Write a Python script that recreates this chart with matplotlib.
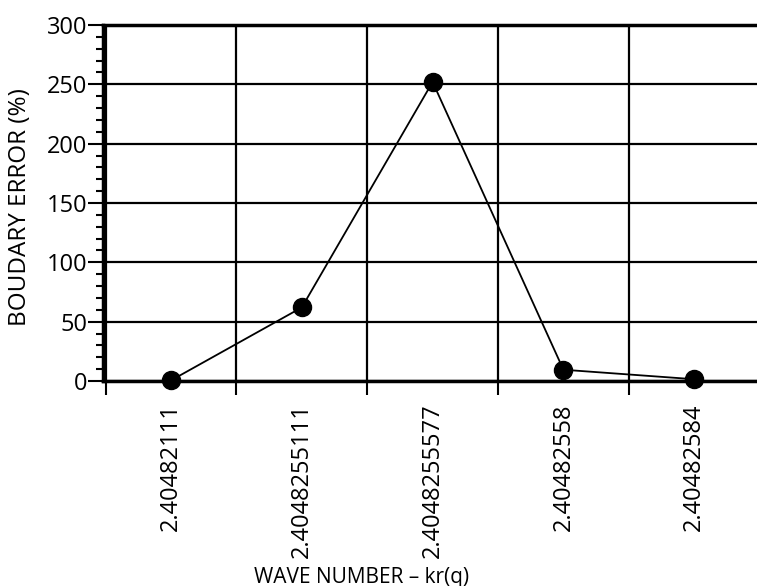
import matplotlib
matplotlib.use("Agg")
import matplotlib.pyplot as plt
from matplotlib.ticker import MultipleLocator

# data
wave_labels = ["2.40482111", "2.4048255111", "2.4048255577",
               "2.40482558", "2.40482584"]
boundary_error = [0.5, 62, 252, 9.5, 1.5]

plt.rcParams["font.family"] = ["Open Sans", "DejaVu Sans"]

fig = plt.figure(figsize=(7.57, 5.86), dpi=100)
ax = fig.add_axes([103 / 757, 1 - 381 / 586, 654 / 757, (381 - 25) / 586])

x = list(range(len(wave_labels)))
ax.plot(x, boundary_error, color="black", lw=1.3, marker="o",
        markersize=13, markerfacecolor="black", zorder=5, clip_on=False)

ax.set_xlim(-0.52, 4.48)
ax.set_ylim(0, 300)

# grid lines sit on the category boundaries
bounds = [i + 0.5 for i in range(-1, len(wave_labels) - 1)]
ax.set_xticks(bounds)
ax.set_xticklabels([])
ax.set_xticks(x, minor=True)
ax.set_xticklabels(wave_labels, minor=True, rotation=90, fontsize=17)
ax.tick_params(axis="x", which="major", direction="out", length=10, width=1.5)
ax.tick_params(axis="x", which="minor", length=0, pad=16)

ax.yaxis.set_major_locator(MultipleLocator(50))
ax.yaxis.set_minor_locator(MultipleLocator(10))
ax.tick_params(axis="y", which="major", direction="out", length=11, width=1.5,
               labelsize=17, pad=0)
ax.tick_params(axis="y", which="minor", direction="out", length=5, width=1.5)

ax.grid(True, which="major", color="black", lw=1.6)
ax.set_axisbelow(True)

ax.spines["right"].set_visible(False)
for side in ["left", "bottom", "top"]:
    ax.spines[side].set_linewidth(2.5)

fig.text(20 / 757, 1 - 207 / 586, "BOUDARY ERROR (%)", fontsize=17.5,
         rotation=90, ha="center", va="center")
fig.text(362 / 757, 1 - 577 / 586, "WAVE NUMBER \u2013 kr(q)", fontsize=15,
         ha="center", va="center")

fig.savefig("out.png", dpi=100)
